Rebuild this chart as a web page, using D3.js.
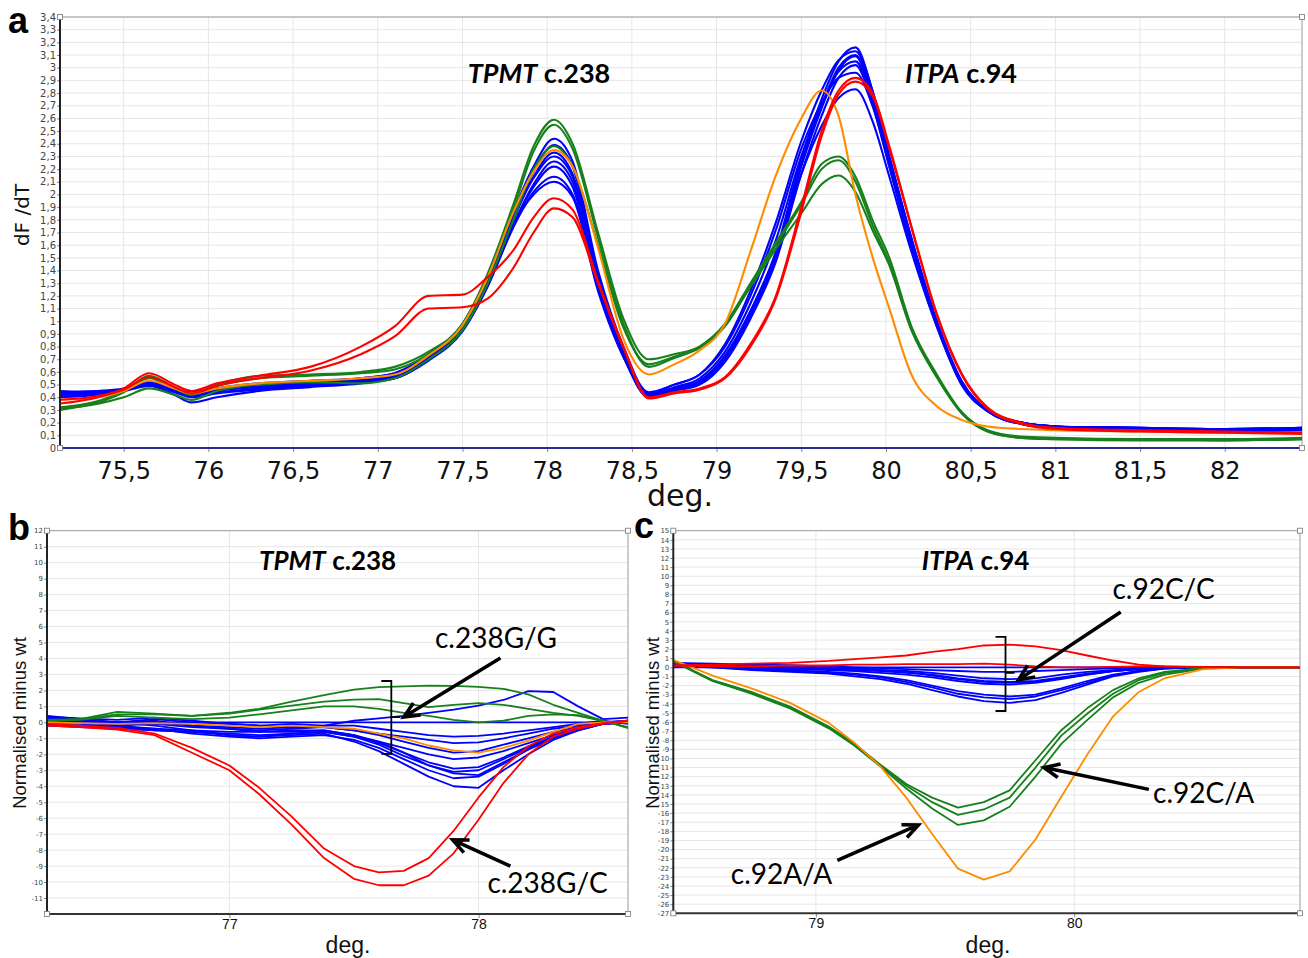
<!DOCTYPE html>
<html><head><meta charset="utf-8">
<script src="https://cdn.jsdelivr.net/npm/d3@7"></script>
<style>body{margin:0;background:#fff}svg{display:block}</style>
</head><body>
<svg id="chart" width="1308" height="958"></svg>
<script>
// ---------------- DATA ----------------
// Panel a: dF/dT melting curves, temperature knots (deg.)
const aTemps = [75.12,75.35,75.5,75.65,75.8,75.9,76.05,76.3,76.6,76.9, 77.1,77.3,77.5,77.65,77.8,77.92,78.04,78.15,78.3,78.45, 78.6,78.75,78.9,79.05,79.2,79.35,79.5,79.62,79.72,79.82, 79.92,80.02,80.15,80.3,80.45,80.6,80.8,81.0,81.5,82.0, 82.46];
const aBlue1 = [0.44,0.45,0.47,0.52,0.47,0.44,0.47,0.50,0.52,0.55, 0.59,0.74,0.98,1.36,1.86,2.22,2.44,2.26,1.40,0.80, 0.43,0.47,0.53,0.73,1.08,1.55,2.28,2.75,3.05,3.16, 2.82,2.30,1.65,1.00,0.52,0.30,0.20,0.17,0.16,0.15, 0.16];
const aBlue2 = [0.45,0.44,0.46,0.50,0.46,0.43,0.46,0.49,0.51,0.54, 0.58,0.72,0.96,1.34,1.83,2.18,2.39,2.22,1.36,0.78, 0.44,0.50,0.58,0.82,1.24,1.78,2.42,2.82,3.06,3.13, 2.82,2.30,1.66,1.00,0.52,0.30,0.20,0.17,0.15,0.14, 0.15];
const aBlue3 = [0.42,0.43,0.45,0.49,0.42,0.36,0.40,0.45,0.48,0.51, 0.55,0.69,0.92,1.28,1.76,2.08,2.26,2.10,1.30,0.74, 0.41,0.46,0.51,0.70,1.04,1.50,2.22,2.68,2.98,3.09, 2.77,2.26,1.62,0.98,0.50,0.29,0.19,0.16,0.15,0.14, 0.15];
const aBlue4 = [0.40,0.42,0.45,0.50,0.45,0.41,0.45,0.48,0.50,0.53, 0.56,0.70,0.93,1.28,1.74,2.02,2.14,2.00,1.26,0.72, 0.40,0.45,0.50,0.68,1.02,1.47,2.16,2.62,2.92,3.02, 2.72,2.22,1.58,0.96,0.49,0.29,0.19,0.16,0.15,0.14, 0.14];
const aBlue5 = [0.43,0.44,0.46,0.51,0.46,0.42,0.44,0.47,0.50,0.53, 0.57,0.71,0.94,1.30,1.76,2.00,2.10,1.98,1.24,0.72, 0.43,0.50,0.58,0.80,1.20,1.72,2.36,2.72,2.92,2.96, 2.70,2.22,1.60,0.98,0.50,0.30,0.20,0.17,0.16,0.15, 0.16];
const aBlue6 = [0.41,0.43,0.46,0.51,0.45,0.42,0.46,0.49,0.52,0.54, 0.58,0.72,0.95,1.32,1.80,2.14,2.33,2.16,1.34,0.76, 0.42,0.47,0.53,0.72,1.08,1.52,2.16,2.54,2.76,2.83, 2.58,2.14,1.55,0.96,0.50,0.30,0.20,0.17,0.15,0.14, 0.15];
const aBlue7 = [0.44,0.45,0.46,0.50,0.44,0.40,0.43,0.46,0.49,0.52, 0.55,0.70,0.93,1.29,1.76,2.06,2.22,2.06,1.28,0.73, 0.42,0.48,0.55,0.76,1.14,1.64,2.30,2.70,2.97,3.05, 2.76,2.26,1.62,0.98,0.50,0.29,0.19,0.16,0.15,0.13, 0.14];
const aBlue8 = [0.43,0.44,0.46,0.51,0.46,0.43,0.47,0.51,0.53,0.55, 0.59,0.73,0.97,1.34,1.82,2.13,2.30,2.14,1.34,0.76, 0.42,0.46,0.52,0.71,1.07,1.53,2.25,2.70,3.00,3.10, 2.79,2.28,1.64,0.99,0.51,0.30,0.20,0.17,0.16,0.15, 0.16];
const aGreen1 = [0.30,0.36,0.44,0.57,0.48,0.43,0.50,0.57,0.58,0.60, 0.64,0.76,0.98,1.38,1.92,2.38,2.59,2.40,1.70,1.02, 0.70,0.74,0.80,0.98,1.30,1.62,1.94,2.24,2.30,2.14, 1.80,1.50,0.96,0.58,0.28,0.14,0.09,0.08,0.07,0.07, 0.08];
const aGreen2 = [0.32,0.37,0.45,0.55,0.47,0.42,0.49,0.55,0.57,0.59, 0.62,0.74,0.96,1.35,1.88,2.34,2.55,2.36,1.66,0.98, 0.64,0.71,0.79,0.96,1.28,1.60,1.92,2.20,2.27,2.10, 1.76,1.46,0.94,0.56,0.27,0.13,0.08,0.07,0.07,0.06, 0.07];
const aGreen3 = [0.31,0.35,0.40,0.47,0.42,0.38,0.45,0.50,0.52,0.51, 0.55,0.70,0.93,1.30,1.80,2.20,2.38,2.22,1.60,0.95, 0.66,0.72,0.80,0.97,1.27,1.57,1.85,2.08,2.15,2.02, 1.72,1.44,0.93,0.56,0.27,0.13,0.08,0.07,0.06,0.06, 0.07];
const aOrange = [0.38,0.40,0.45,0.53,0.47,0.43,0.47,0.51,0.53,0.55, 0.58,0.73,0.97,1.35,1.86,2.18,2.35,2.22,1.58,0.86, 0.58,0.66,0.77,0.98,1.55,2.15,2.60,2.82,2.62,2.00, 1.51,1.10,0.58,0.33,0.22,0.17,0.15,0.14,0.13,0.12, 0.12];
const aRed1 = [0.35,0.40,0.47,0.59,0.50,0.45,0.51,0.57,0.64,0.80, 0.96,1.20,1.21,1.35,1.56,1.82,1.97,1.88,1.32,0.80, 0.40,0.44,0.47,0.56,0.82,1.20,1.90,2.50,2.82,2.92, 2.80,2.38,1.75,1.06,0.58,0.32,0.20,0.16,0.14,0.13, 0.12];
const aRed2 = [0.38,0.41,0.46,0.56,0.48,0.43,0.49,0.55,0.61,0.74, 0.88,1.10,1.11,1.18,1.42,1.70,1.89,1.82,1.30,0.79, 0.39,0.43,0.46,0.55,0.80,1.18,1.86,2.46,2.79,2.89, 2.78,2.36,1.74,1.05,0.57,0.31,0.19,0.15,0.13,0.12, 0.11];
const aXTicks = [75.5,76,76.5,77,77.5,78,78.5,79,79.5,80,80.5,81,81.5,82];

// Panel b: TPMT c.238 normalised minus wt
const bTemps = [76.27,76.4,76.55,76.7,76.85,77.0,77.12,77.25,77.38,77.5,77.6,77.7,77.8,77.9,78.0,78.1,78.2,78.3,78.4,78.5,78.6];
const bBlue0 = [0,0,0,0,0,0,0,0,0,0,0,0,0,0,0,0,0,0,0,0,0];
const bBlue1 = [0.35,0.25,0.15,0.3,0.1,-0.1,-0.2,-0.1,-0.2,0.1,0.25,0.4,0.6,0.8,1.05,1.4,1.95,1.9,1.0,0.2,0.3];
const bBlue2 = [0.2,0.1,0.0,0.2,0.0,-0.1,-0.2,-0.3,-0.2,-0.2,-0.4,-0.6,-0.8,-0.9,-0.85,-0.7,-0.5,-0.3,-0.1,0.1,-0.1];
const bBlue3 = [0.1,0.0,-0.2,-0.1,-0.3,-0.4,-0.5,-0.4,-0.3,-0.5,-0.7,-0.9,-1.1,-1.3,-1.25,-1.0,-0.7,-0.4,-0.2,0.0,0.1];
const bBlue4 = [-0.2,-0.3,-0.4,-0.5,-0.6,-0.7,-0.8,-0.7,-0.6,-0.9,-1.2,-1.6,-2.0,-2.3,-2.2,-1.8,-1.3,-0.8,-0.4,-0.1,0.0];
const bBlue5 = [0.0,-0.1,-0.3,-0.4,-0.5,-0.6,-0.6,-0.5,-0.5,-0.8,-1.3,-1.9,-2.5,-2.9,-2.8,-2.2,-1.5,-0.9,-0.4,-0.1,0.1];
const bBlue6 = [0.4,0.2,0.0,-0.2,-0.5,-0.8,-0.9,-0.7,-0.6,-0.9,-1.4,-2.1,-2.7,-3.1,-3.0,-2.3,-1.6,-0.9,-0.4,0.0,0.0];
const bBlue7 = [0.2,0.1,-0.2,-0.4,-0.7,-0.9,-1.0,-0.9,-0.8,-1.1,-1.6,-2.3,-3.0,-3.5,-3.4,-2.6,-1.7,-1.0,-0.5,-0.1,0.0];
const bBlue8 = [-0.1,-0.2,-0.3,-0.5,-0.6,-0.8,-0.9,-0.8,-0.7,-1.2,-1.8,-2.6,-3.4,-4.0,-4.1,-3.0,-2.0,-1.1,-0.5,-0.1,0.0];
const bBlue9 = [0.3,0.2,0.0,0.1,-0.2,-0.4,-0.6,-0.6,-0.5,-0.8,-1.2,-1.9,-2.7,-3.2,-3.3,-2.5,-1.7,-1.0,-0.4,-0.1,0.0];
const bBlue10 = [0.1,0.0,-0.1,0.0,-0.2,-0.3,-0.4,-0.3,-0.3,-0.5,-0.8,-1.2,-1.6,-1.9,-1.8,-1.4,-1.0,-0.6,-0.3,0.0,0.1];
const bGreen1 = [0.1,0.2,0.65,0.55,0.4,0.6,0.85,1.3,1.7,2.05,2.2,2.25,2.3,2.28,2.22,2.1,1.75,1.1,0.6,0.1,-0.35];
const bGreen2 = [0.15,0.2,0.5,0.5,0.4,0.55,0.8,1.05,1.3,1.42,1.45,1.2,0.95,1.1,1.2,1.1,0.85,0.6,0.4,0.1,-0.3];
const bGreen3 = [0.1,0.15,0.4,0.3,0.2,0.3,0.5,0.75,1.0,1.0,0.85,0.6,0.4,0.15,0.0,0.1,0.4,0.5,0.45,0.1,-0.35];
const bOrange = [0.0,-0.05,-0.1,-0.05,-0.1,-0.2,-0.3,-0.2,-0.3,-0.4,-0.7,-1.0,-1.45,-1.75,-1.9,-1.6,-1.15,-0.6,-0.1,0.0,0.0];
const bRed1 = [-0.1,-0.2,-0.35,-0.7,-1.6,-2.7,-4.1,-5.9,-7.9,-9.0,-9.4,-9.3,-8.5,-6.8,-4.7,-2.8,-1.5,-0.7,-0.3,-0.05,0.1];
const bRed2 = [-0.2,-0.3,-0.45,-0.8,-1.9,-3.0,-4.5,-6.4,-8.5,-9.8,-10.2,-10.2,-9.6,-8.2,-6.1,-3.8,-2.0,-0.9,-0.4,-0.1,0.1];
const bXTicks = [77,78];

// Panel c: ITPA c.94 normalised minus wt
const cTemps = [78.45,78.6,78.75,78.9,79.05,79.15,79.25,79.35,79.45,79.55,79.65,79.75,79.85,79.95,80.05,80.15,80.25,80.35,80.5,80.65,80.88];
const cBlue0 = [0,0,0,0,0,0,0,0,0,0,0,0,0,0,0,0,0,0,0,0,0];
const cBlue1 = [0.4,0.3,0.2,0.0,-0.1,-0.2,-0.3,-0.4,-0.6,-0.9,-1.2,-1.3,-1.2,-0.8,-0.5,-0.3,-0.1,0.0,0,0,0];
const cBlue2 = [0.3,0.2,0.0,-0.1,-0.2,-0.3,-0.4,-0.6,-0.8,-1.2,-1.5,-1.6,-1.5,-1.1,-0.7,-0.4,-0.2,-0.05,0,0,0];
const cBlue3 = [0.2,0.1,-0.1,-0.2,-0.3,-0.4,-0.6,-0.8,-1.1,-1.5,-1.8,-1.9,-1.7,-1.3,-0.8,-0.4,-0.2,-0.05,0,0,0];
const cBlue4 = [0.5,0.4,0.3,0.2,0.1,-0.1,-0.3,-0.5,-0.9,-1.3,-1.6,-1.7,-1.6,-1.2,-0.8,-0.4,-0.2,-0.05,0,0,0];
const cBlue5 = [0.3,0.1,-0.1,-0.3,-0.5,-0.7,-1.0,-1.4,-2.0,-2.6,-3.0,-3.2,-3.0,-2.3,-1.5,-0.8,-0.4,-0.1,0,0,0];
const cBlue6 = [0.1,0.0,-0.2,-0.4,-0.6,-0.8,-1.1,-1.6,-2.2,-2.9,-3.3,-3.5,-3.2,-2.5,-1.7,-0.9,-0.4,-0.1,0,0,0];
const cBlue7 = [0.2,0.0,-0.3,-0.5,-0.7,-1.0,-1.3,-1.8,-2.5,-3.2,-3.7,-3.9,-3.6,-2.8,-1.9,-1.0,-0.5,-0.15,0,0,0];
const cBlue8 = [0.3,0.2,0.3,0.2,0.1,0.0,-0.1,-0.2,-0.3,-0.4,-0.5,-0.5,-0.4,-0.3,-0.2,-0.1,0,0,0,0,0];
const cGreen1 = [0.7,-1.4,-2.7,-4.3,-6.5,-8.4,-10.7,-12.8,-14.3,-15.4,-14.8,-13.5,-10.2,-6.9,-4.5,-2.5,-1.2,-0.5,-0.05,0,0];
const cGreen2 = [0.7,-1.5,-2.8,-4.4,-6.6,-8.5,-10.8,-13.0,-14.8,-16.2,-15.6,-14.3,-11.0,-7.5,-5.1,-2.9,-1.4,-0.6,-0.1,0,0];
const cGreen3 = [0.6,-1.5,-2.9,-4.5,-6.7,-8.6,-10.9,-13.3,-15.5,-17.3,-16.8,-15.3,-12.0,-8.4,-5.8,-3.3,-1.7,-0.8,-0.15,0,0];
const cOrange = [0.8,-0.9,-2.3,-3.9,-6.1,-8.3,-10.9,-14.3,-18.3,-22.1,-23.3,-22.4,-18.9,-14.2,-9.6,-5.4,-2.7,-1.2,-0.2,0,0];
const cRed1 = [0.2,0.3,0.4,0.5,0.7,0.9,1.1,1.3,1.7,2.0,2.4,2.5,2.3,1.9,1.3,0.75,0.3,0.1,0.0,0.0,0.0];
const cRed2 = [0.2,0.1,0.1,0.2,0.2,0.3,0.3,0.35,0.35,0.35,0.4,0.3,0.1,0.0,0.0,0.05,0.1,0.1,0.05,0.0,0.0];
const cXTicks = [79,80];

// ---------------- STYLE ----------------
const BLUE = "#0000ff", GREEN = "#17801c", RED = "#ff0000", ORANGE = "#ff8c00";
const GRID = "#e6e6e6";
const svg = d3.select("#chart");
const comma = v => String(+v.toFixed(2)).replace(".", ",");

function handle(g, x, y) {
  g.append("rect").attr("x", x - 2.5).attr("y", y - 2.5).attr("width", 5).attr("height", 5)
    .attr("fill", "#fff").attr("stroke", "#777").attr("stroke-width", 0.8);
}

function panel(o) {
  const g = svg.append("g");
  const x = d3.scaleLinear().domain(o.xd).range([o.l, o.r]);
  const y = d3.scaleLinear().domain(o.yd).range([o.b, o.t]);
  const id = "clip" + o.name;
  g.append("clipPath").attr("id", id).append("rect")
    .attr("x", o.l).attr("y", o.t).attr("width", o.r - o.l).attr("height", o.b - o.t);
  g.append("g").selectAll("line").data(o.yGrid).join("line")
    .attr("x1", o.l).attr("x2", o.r).attr("y1", d => y(d)).attr("y2", d => y(d))
    .attr("stroke", GRID).attr("stroke-width", 1);
  g.append("g").selectAll("line").data(o.xTicks).join("line")
    .attr("x1", d => x(d)).attr("x2", d => x(d)).attr("y1", o.t).attr("y2", o.b)
    .attr("stroke", GRID).attr("stroke-width", 1);
  g.append("line").attr("x1", o.l).attr("x2", o.r).attr("y1", o.t).attr("y2", o.t).attr("stroke", "#9a9a9a");
  g.append("line").attr("x1", o.r).attr("x2", o.r).attr("y1", o.t).attr("y2", o.b).attr("stroke", "#9a9a9a");
  const line = d3.line().x(d => x(d[0])).y(d => y(d[1])).curve(o.curve);
  const lg = g.append("g").attr("clip-path", `url(#${id})`);
  o.series.forEach(s => {
    lg.append("path").datum(d3.zip(o.temps, s.v)).attr("d", line)
      .attr("fill", "none").attr("stroke", s.c).attr("stroke-width", o.lw)
      .attr("stroke-linejoin", "round");
  });
  const ya = d3.axisLeft(y).tickValues(o.yTicks).tickSize(3).tickFormat(o.yFmt);
  const yg = g.append("g").attr("transform", `translate(${o.l},0)`).call(ya);
  yg.select(".domain").remove();
  yg.selectAll("line").attr("stroke", "#888");
  yg.selectAll("text").attr("font-family", "DejaVu Sans, sans-serif").attr("font-size", o.yfs).attr("fill", "#444").attr("x", -4);
  g.append("line").attr("x1", o.l).attr("x2", o.l).attr("y1", o.t).attr("y2", o.b).attr("stroke", "#222").attr("stroke-width", 2);
  const xa = d3.axisBottom(x).tickValues(o.xTicks).tickSize(4).tickFormat(o.xFmt);
  const xg = g.append("g").attr("transform", `translate(0,${o.b})`).call(xa);
  xg.select(".domain").remove();
  xg.selectAll("line").attr("stroke", "#888");
  xg.selectAll("text").attr("font-family", o.xff).attr("font-size", o.xfs).attr("fill", "#111").attr("dy", 0).attr("y", o.xty);
  g.append("line").attr("x1", o.l).attr("x2", o.r).attr("y1", o.b).attr("y2", o.b).attr("stroke", o.baseColor).attr("stroke-width", 2);
  handle(g, o.l, o.t); handle(g, o.r, o.t); handle(g, o.r, o.b); handle(g, o.l, o.b);
  return {g, x, y};
}

// ---------------- PANEL A ----------------
const A = panel({
  name: "a", l: 60, r: 1302, t: 17, b: 448, xd: [75.124, 82.456], yd: [0, 3.4],
  temps: aTemps, curve: d3.curveMonotoneX, lw: 2.1,
  yGrid: d3.range(1, 35).map(i => i / 10), yTicks: d3.range(0, 35).map(i => i / 10), yFmt: comma, yfs: 10,
  xTicks: aXTicks, xFmt: comma, xff: "DejaVu Sans, sans-serif", xfs: 24, xty: 31, baseColor: "#2b2b8f",
  series: [
    {v: aBlue1, c: BLUE}, {v: aBlue2, c: BLUE}, {v: aBlue3, c: BLUE}, {v: aBlue4, c: BLUE},
    {v: aBlue5, c: BLUE}, {v: aBlue6, c: BLUE}, {v: aBlue7, c: BLUE}, {v: aBlue8, c: BLUE},
    {v: aGreen1, c: GREEN}, {v: aGreen2, c: GREEN}, {v: aGreen3, c: GREEN},
    {v: aOrange, c: ORANGE}, {v: aRed1, c: RED}, {v: aRed2, c: RED}
  ]
});
A.g.append("text").attr("x", 680).attr("y", 506).attr("text-anchor", "middle")
  .attr("font-family", "DejaVu Sans, sans-serif").attr("font-size", 30).attr("fill", "#111").text("deg.");
A.g.append("text").attr("transform", "translate(29,215) rotate(-90)").attr("text-anchor", "middle")
  .attr("font-family", "DejaVu Sans, sans-serif").attr("font-size", 20).attr("fill", "#111").text("dF /dT");

function title(g, x, y, ital, rest, fs) {
  const t = g.append("text").attr("x", x).attr("y", y).attr("text-anchor", "middle").attr("dominant-baseline", "central")
    .attr("font-family", "Lato, 'Open Sans', sans-serif").attr("font-size", fs).attr("font-weight", "bold").attr("fill", "#000");
  t.append("tspan").attr("font-style", "italic").text(ital);
  t.append("tspan").text(rest);
}
title(A.g, A.x(77.952), A.y(2.97), "TPMT", " c.238", 27);
title(A.g, A.x(80.443), A.y(2.97), "ITPA", " c.94", 27);

// ---------------- PANEL B ----------------
const B = panel({
  name: "b", l: 47, r: 628, t: 530.7, b: 914, xd: [76.268, 78.6], yd: [-12, 12],
  temps: bTemps, curve: d3.curveLinear, lw: 1.8,
  yGrid: d3.range(-11, 12), yTicks: d3.range(-11, 13), yFmt: d => d, yfs: 7,
  xTicks: bXTicks, xFmt: d => d, xff: "Liberation Sans, Arial, sans-serif", xfs: 14, xty: 15, baseColor: "#333",
  series: [
    {v: bBlue0, c: BLUE}, {v: bBlue1, c: BLUE}, {v: bBlue2, c: BLUE}, {v: bBlue3, c: BLUE}, {v: bBlue4, c: BLUE},
    {v: bBlue5, c: BLUE}, {v: bBlue6, c: BLUE}, {v: bBlue7, c: BLUE}, {v: bBlue8, c: BLUE}, {v: bBlue9, c: BLUE},
    {v: bBlue10, c: BLUE}, {v: bGreen1, c: GREEN}, {v: bGreen2, c: GREEN}, {v: bGreen3, c: GREEN},
    {v: bOrange, c: ORANGE}, {v: bRed1, c: RED}, {v: bRed2, c: RED}
  ]
});

// ---------------- PANEL C ----------------
const C = panel({
  name: "c", l: 673.3, r: 1300, t: 530.7, b: 913.3, xd: [78.448, 80.874], yd: [-27, 15],
  temps: cTemps, curve: d3.curveLinear, lw: 1.8,
  yGrid: d3.range(-26, 15), yTicks: d3.range(-27, 16), yFmt: d => d, yfs: 7,
  xTicks: cXTicks, xFmt: d => d, xff: "Liberation Sans, Arial, sans-serif", xfs: 14, xty: 15, baseColor: "#333",
  series: [
    {v: cBlue0, c: BLUE}, {v: cBlue1, c: BLUE}, {v: cBlue2, c: BLUE}, {v: cBlue3, c: BLUE}, {v: cBlue4, c: BLUE},
    {v: cBlue5, c: BLUE}, {v: cBlue6, c: BLUE}, {v: cBlue7, c: BLUE}, {v: cBlue8, c: BLUE},
    {v: cGreen1, c: GREEN}, {v: cGreen2, c: GREEN}, {v: cGreen3, c: GREEN},
    {v: cOrange, c: ORANGE}, {v: cRed1, c: RED}, {v: cRed2, c: RED}
  ]
});

[B, C].forEach((P, i) => {
  const cx = i === 0 ? 348 : 988;
  P.g.append("text").attr("x", cx).attr("y", 953).attr("text-anchor", "middle")
    .attr("font-family", "Liberation Sans, Arial, sans-serif").attr("font-size", 23).attr("fill", "#111").text("deg.");
  P.g.append("text").attr("transform", `translate(${i === 0 ? 26 : 659},723) rotate(-90)`).attr("text-anchor", "middle")
    .attr("font-family", "Liberation Sans, Arial, sans-serif").attr("font-size", 18.5).attr("fill", "#111").text("Normalised minus wt");
});
title(B.g, B.x(77.394), B.y(10.16), "TPMT", " c.238", 26);
title(C.g, C.x(79.618), C.y(11.79), "ITPA", " c.94", 26);

// annotations
function arrow(P, x1, y1, x2, y2) {
  const X1 = P.x(x1), Y1 = P.y(y1), X2 = P.x(x2), Y2 = P.y(y2);
  const a = Math.atan2(Y1 - Y2, X1 - X2), L = 17, s = 0.42;
  P.g.append("path")
    .attr("d", `M${X1},${Y1}L${X2},${Y2}M${X2 + L * Math.cos(a + s)},${Y2 + L * Math.sin(a + s)}L${X2},${Y2}L${X2 + L * Math.cos(a - s)},${Y2 + L * Math.sin(a - s)}`)
    .attr("fill", "none").attr("stroke", "#000").attr("stroke-width", 3.5).attr("stroke-linecap", "butt").attr("stroke-linejoin", "miter");
}
function bracket(P, xv, top, bot, mid, nub) {
  const X = P.x(xv), T = P.y(top), Bt = P.y(bot), M = P.y(mid);
  P.g.append("path").attr("d", `M${X - 10},${T}H${X}V${Bt}H${X - 10}M${X},${M}H${X + nub}`)
    .attr("fill", "none").attr("stroke", "#000").attr("stroke-width", 1.8);
}
function label(P, xv, yv, txt) {
  P.g.append("text").attr("x", P.x(xv)).attr("y", P.y(yv)).attr("text-anchor", "middle").attr("dominant-baseline", "central")
    .attr("font-family", "Lato, 'Open Sans', sans-serif").attr("font-size", 28).attr("fill", "#000").text(txt);
}
bracket(B, 77.65, 2.59, -1.98, 0.33, 9);
arrow(B, 78.088, 4.03, 77.70, 0.33);
label(B, 78.07, 5.34, "c.238G/G");
arrow(B, 78.128, -9.0, 77.896, -7.36);
label(B, 78.277, -10.0, "c.238G/C");

bracket(C, 79.734, 3.34, -4.79, -0.61, 9);
arrow(C, 80.18, 6.08, 79.784, -1.38);
label(C, 80.346, 8.72, "c.92C/C");
arrow(C, 80.289, -13.4, 79.883, -11.0);
label(C, 80.501, -13.65, "c.92C/A");
arrow(C, 79.083, -21.2, 79.397, -17.3);
label(C, 78.867, -22.55, "c.92A/A");

[["a", 8, 33], ["b", 8, 540], ["c", 634, 538]].forEach(([t, x, y]) => {
  svg.append("text").attr("x", x).attr("y", y).attr("font-family", "Liberation Sans, Arial, sans-serif")
    .attr("font-size", 36).attr("font-weight", "bold").attr("fill", "#000").text(t);
});
</script>
</body></html>
